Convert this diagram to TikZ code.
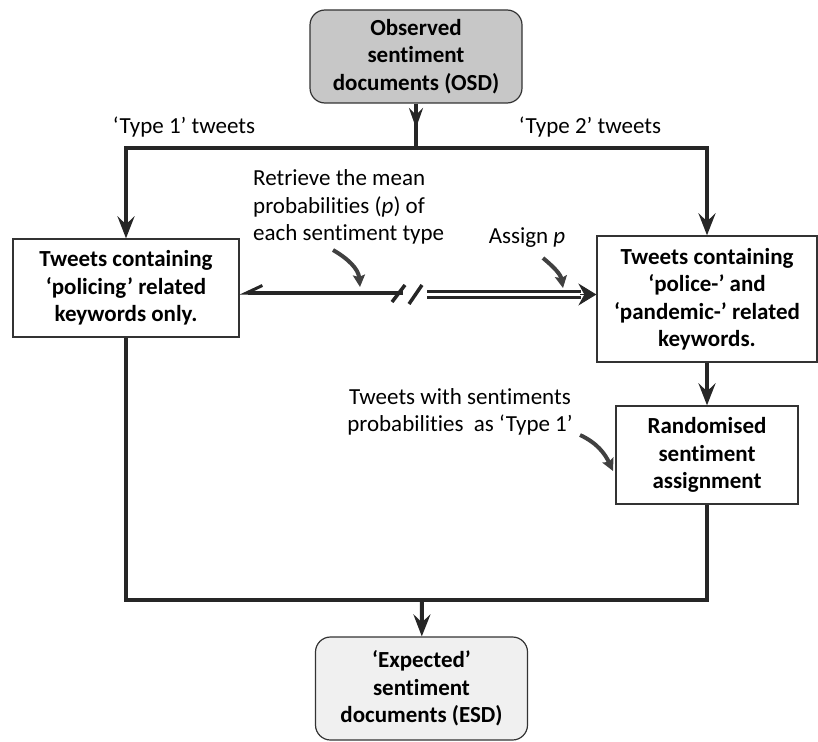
\documentclass[tikz,border=0pt]{standalone}
\usepackage{fontspec}
\setmainfont{Carlito}[Ligatures={TeX,NoCommon}]
\usetikzlibrary{arrows.meta,decorations.markings}

\begin{document}
\begin{tikzpicture}[x=1pt, y=1pt,
    every node/.style={font=\fontsize{23}{27.5}\selectfont},
    doc/.style={rectangle, rounded corners=15pt, draw=black!80, line width=1.2pt, minimum width=212pt, minimum height=93pt, inner sep=0pt, align=center, font=\fontsize{23}{27.5}\selectfont\bfseries},
    box/.style={rectangle, draw=black!80, line width=1.3pt, fill=white, inner sep=0pt, align=center, font=\fontsize{23}{27.5}\selectfont\bfseries},
    lbl/.style={align=center, inner sep=0pt},
    line/.style={draw=black!85, line width=4pt},
    arrow/.style={line, -{Stealth[length=22pt, width=17pt, inset=8pt]}},
    mid arrow/.style={postaction={decorate}, decoration={markings, mark=at position 0.55 with {\arrow{Stealth[length=20pt, width=14pt, inset=7pt]}}}},
    note/.style={draw=black!75, line width=4pt, -{Stealth[length=12pt, width=12pt, inset=2pt]}}
]
    \useasboundingbox (0,0) rectangle (818,-741);

    % Documents
    \node[doc, fill=black!22] (osd) at (416,-56.5) {Observed\\sentiment\\documents (OSD)};
    \node[doc, fill=black!6, minimum height=103pt] (esd) at (421.5,-688.5) {‘Expected’\\sentiment\\documents (ESD)};

    % Tweets
    \node[box, minimum width=226pt, minimum height=98pt] (policing) at (126,-288) {Tweets containing\\‘policing’ related\\keywords only.};
    \node[box, minimum width=220pt, minimum height=126pt] (pandemic) at (707,-299) {Tweets containing\\‘police-’ and\\‘pandemic-’ related\\keywords.};
    \node[box, minimum width=182pt, minimum height=98pt] (random) at (707,-455) {Randomised\\sentiment\\assignment};

    % Labels
    \node[lbl] (type1) at (184,-127) {‘Type 1’ tweets};
    \node[lbl] (type2) at (590,-127) {‘Type 2’ tweets};
    \node[lbl, align=left, anchor=west] (retrieve) at (253,-207) {Retrieve the mean\\probabilities (\textit{p}) of\\each sentiment type};
    \node[lbl] (assign) at (527,-238) {Assign \textit{p}};
    \node[lbl] (withp) at (460,-412) {Tweets with sentiments\\probabilities\ \ as ‘Type 1’};

    \coordinate (split) at (416,-148);
    \coordinate (join) at (422,-600);
    \coordinate (brkL) at (403,-293);
    \coordinate (brkR) at (427,-294.5);

    % Connectors
    \draw[line, mid arrow] (osd) -- (split);
    \draw[arrow] (split) -| (policing.north);
    \draw[arrow] (split) -| (pandemic.north);
    \draw[arrow] (pandemic) -- (random);
    \draw[line] (policing.south) |- (join) -| (random.south);
    \draw[arrow] (join) -- (esd);

    % Passage des probabilites
    \draw[line, {Straight Barb[right, length=16pt, width=15pt, line width=3pt]}-] (policing.east |- brkL) -- (brkL);
    \draw[line, line width=3.5pt] (392,-302) -- (405,-285);
    \draw[line, line width=3.5pt] (409,-304) -- (422,-285);
    \draw[draw=black!85, line width=3.3pt, double=white, double distance=2.4pt, shorten >=15pt] (brkR) -- (pandemic.west |- brkR);
    \draw[draw=black!85, line width=1pt, -{Stealth[length=18pt, width=22pt, inset=6pt]}] ([xshift=-16pt]pandemic.west |- brkR) -- (pandemic.west |- brkR);

    % Notes
    \coordinate (n1) at (333,-250);
    \coordinate (m1) at (360,-287);
    \coordinate (n2) at (543,-258);
    \coordinate (m2) at (563,-288);
    \coordinate (n3) at (580,-435);
    \coordinate (m3) at (613,-471);
    \draw[note] (n1) to[out=-30, in=95] (m1);
    \draw[note] (n2) to[out=-40, in=100] (m2);
    \draw[note] (n3) to[out=-25, in=115] (m3);
\end{tikzpicture}
\end{document}
